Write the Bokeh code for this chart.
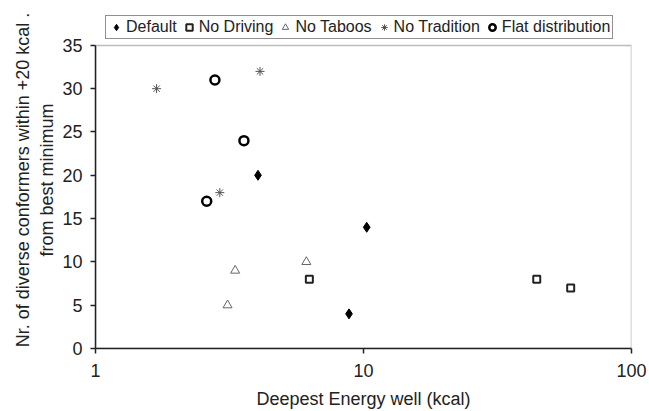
from bokeh.plotting import figure
from bokeh.models import (Range1d, FixedTicker, BasicTickFormatter, Legend,
                          LegendItem, BoxAnnotation)
from bokeh.embed import file_html
from bokeh.resources import INLINE

# Data
default_x = [4.04, 10.28, 8.83]
default_y = [20, 14, 4]
nodriving_x = [6.28, 44.3, 59.3]
nodriving_y = [8, 8, 7]
notaboos_x = [3.32, 6.12, 3.11]
notaboos_y = [9, 10, 5]
notradition_x = [1.69, 4.11, 2.91]
notradition_y = [30, 32, 18]
flat_x = [2.79, 3.58, 2.60]
flat_y = [31, 24, 17]

x_ticks = [1, 10, 100]
y_ticks = [0, 5, 10, 15, 20, 25, 30, 35]

FONT = "Liberation Sans"

# layout (pixels)
W, H = 649, 411
B_LEFT, B_RIGHT, B_TOP, B_BOTTOM = 95, 18, 11, 62
BOX_H = 304            # height of the plotted box (0..35)
frame_h = H - B_TOP - B_BOTTOM
y_min, y_max = y_ticks[0], y_ticks[-1]
y_end = y_min + (y_max - y_min) * frame_h / BOX_H   # room above box for the legend

p = figure(width=W, height=H, x_axis_type="log", output_backend="svg",
           toolbar_location=None, min_border_left=B_LEFT, min_border_right=B_RIGHT,
           min_border_top=B_TOP, min_border_bottom=B_BOTTOM)
p.x_range = Range1d(x_ticks[0], x_ticks[-1])
p.y_range = Range1d(y_min, y_end)
p.xgrid.visible = False
p.ygrid.visible = False
p.outline_line_color = None
p.background_fill_color = "white"
p.border_fill_color = "white"

# plot box
p.add_layout(BoxAnnotation(left=x_ticks[0], right=x_ticks[-1], bottom=y_min, top=y_max,
                           fill_alpha=0, line_color="#222222", line_width=1.5))

for ax in (p.xaxis[0], p.yaxis[0]):
    ax.axis_line_color = "#222222"
    ax.axis_line_width = 1.5
    ax.major_tick_line_color = "#222222"
    ax.major_tick_line_width = 1.5
    ax.major_tick_out = 5
    ax.major_tick_in = 0
    ax.minor_tick_line_color = None
    ax.major_label_text_font = FONT
    ax.major_label_text_font_size = "18px"
    ax.major_label_text_color = "#222222"
    ax.axis_label_text_font = FONT
    ax.axis_label_text_font_size = "18px"
    ax.axis_label_text_font_style = "normal"
    ax.axis_label_text_color = "#222222"

p.yaxis[0].bounds = (y_min, y_max)
p.xaxis[0].ticker = FixedTicker(ticks=x_ticks)
p.xaxis[0].formatter = BasicTickFormatter()
p.yaxis[0].ticker = FixedTicker(ticks=y_ticks)
p.xaxis[0].axis_label = "Deepest Energy well (kcal)"
p.yaxis[0].axis_label = "Nr. of diverse conformers within +20 kcal .\nfrom best minimum"
p.xaxis[0].major_label_standoff = 10
p.yaxis[0].major_label_standoff = 8
p.xaxis[0].axis_label_standoff = 9
p.yaxis[0].axis_label_standoff = 2

r1 = p.scatter(default_x, default_y, marker="diamond", size=10,
               fill_color="black", line_color="black")
r2 = p.scatter(nodriving_x, nodriving_y, marker="square", size=7,
               fill_color="white", line_color="#222222", line_width=2)
r3 = p.scatter(notaboos_x, notaboos_y, marker="triangle", size=9,
               fill_color="white", line_color="#666666", line_width=1)
r4 = p.scatter(notradition_x, notradition_y, marker="asterisk", size=9,
               line_color="#555555", line_width=1)
r5 = p.scatter(flat_x, flat_y, marker="circle", size=9,
               fill_color="white", line_color="black", line_width=2.5)

legend = Legend(items=[
    LegendItem(label="Default", renderers=[r1]),
    LegendItem(label="No Driving", renderers=[r2]),
    LegendItem(label="No Taboos", renderers=[r3]),
    LegendItem(label="No Tradition", renderers=[r4]),
    LegendItem(label="Flat distribution", renderers=[r5]),
], orientation="horizontal", location=(10, BOX_H + 5))
legend.label_text_font = FONT
legend.label_text_font_size = "16px"
legend.label_text_color = "#222222"
legend.glyph_width = 16
legend.glyph_height = 16
legend.label_standoff = 2
legend.spacing = 4
legend.padding = 2
legend.margin = 0
legend.border_line_color = "#222222"
legend.border_line_width = 1
legend.background_fill_alpha = 1
p.add_layout(legend, "center")

open("out.html", "w").write(file_html(p, INLINE))
